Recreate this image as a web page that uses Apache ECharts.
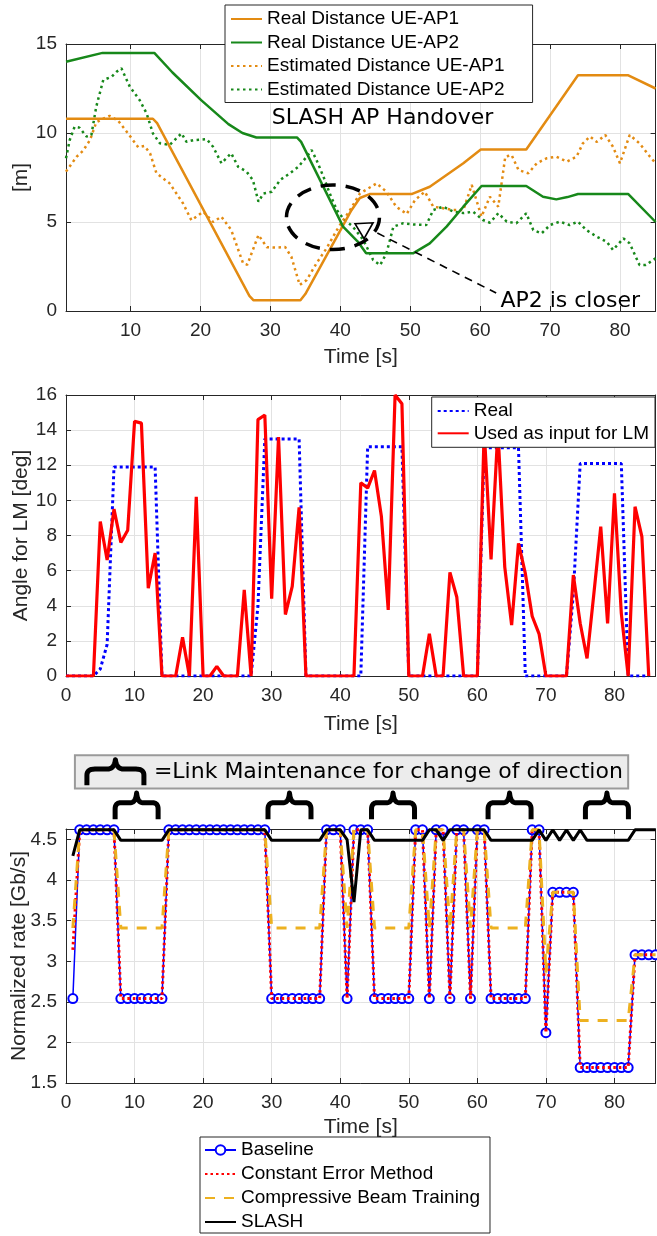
<!DOCTYPE html>
<html><head><meta charset="utf-8">
<script src="https://cdn.jsdelivr.net/npm/echarts@6/dist/echarts.min.js"></script>
<style>html,body{margin:0;padding:0;background:#fff}#c{width:657px;height:1236px}</style>
</head><body><div id="c"></div>
<script>
// ---------- Chart 1: distances [t (s), distance (m)] ----------
const realAP1 = [[0.77,10.8],[13.2,10.8],[13.8,10.55],[27.0,0.85],[27.6,0.6],[34.3,0.6],[35.0,0.95],[41.5,5.6],[42.8,6.35],[44.2,6.57],[50.2,6.57],[52.8,6.98],[55.2,7.64],[57.6,8.3],[60.1,9.07],[66.6,9.07],[74.0,13.24],[81.2,13.24],[85.1,12.5]];
const realAP2 = [[0.77,14.0],[6.0,14.5],[13.4,14.5],[16,13.4],[20.1,11.85],[24,10.5],[26,10.0],[28,9.75],[33.8,9.75],[34.4,9.5],[40.4,4.74],[42.5,3.9],[43.7,3.24],[50.4,3.24],[52.8,3.8],[55.2,4.74],[57.6,5.86],[60.2,7.02],[66.6,7.02],[69.0,6.42],[70.9,6.27],[72.5,6.4],[74.0,6.57],[81.2,6.57],[85.1,5.0]];
const estAP1 = [[0.77,7.83],[2.3,8.67],[3.2,9.0],[4.2,9.6],[5.1,10.6],[6.1,10.8],[7.0,10.96],[8.2,10.7],[9.4,10.1],[11.1,9.2],[12.0,9.27],[12.8,8.86],[13.7,7.74],[15.6,7.17],[17.5,6.05],[18.7,5.1],[20.4,5.58],[21.8,5.0],[23.0,5.3],[24.4,4.55],[26.1,2.68],[26.7,2.6],[28.3,4.27],[29.5,3.58],[30.9,3.56],[32.1,3.6],[33.0,3.05],[34.2,1.46],[35.2,1.74],[36.6,2.68],[38.0,3.5],[39.8,4.74],[41.4,5.67],[42.8,6.6],[45.2,7.17],[46.6,6.7],[48.0,5.86],[49.5,5.45],[50.7,6.24],[52.1,6.7],[53.3,5.86],[54.7,5.77],[56.2,5.67],[57.6,5.67],[58.8,7.08],[60.2,5.3],[61.4,6.42],[62.6,5.86],[63.6,8.67],[64.5,8.76],[65.5,7.92],[66.9,7.74],[68.1,8.3],[69.5,8.58],[70.9,8.67],[72.4,8.39],[73.8,8.67],[74.7,9.42],[75.7,9.8],[76.7,9.5],[77.9,9.89],[79.0,9.23],[80.0,8.3],[81.4,9.89],[82.8,9.42],[84.3,8.67],[85.1,8.3]];
const estAP2 = [[0.77,8.58],[1.3,9.6],[2.0,10.35],[2.7,10.3],[3.7,9.8],[4.4,9.89],[5.1,11.48],[6.1,12.98],[7.3,13.16],[8.0,13.44],[8.7,13.63],[9.9,12.6],[11.3,11.85],[12.3,11.1],[13.2,9.98],[14.2,9.42],[15.6,9.33],[16.3,9.6],[17.3,9.98],[18.0,9.5],[19.0,9.6],[20.9,9.65],[21.8,9.23],[23.0,8.3],[24.4,8.86],[25.4,8.1],[26.6,7.83],[27.5,7.36],[28.3,6.14],[29.0,6.6],[30.2,6.7],[31.4,7.36],[32.8,7.74],[34.0,8.1],[35.2,8.67],[35.9,9.04],[36.6,8.48],[37.6,7.54],[38.5,6.6],[39.5,5.67],[40.4,5.2],[41.8,4.74],[43.3,3.99],[44.7,2.87],[45.7,2.58],[46.6,3.24],[47.6,4.74],[49.0,4.93],[50.5,4.86],[52.3,4.83],[53.3,5.67],[54.7,5.86],[56.2,5.58],[57.6,5.5],[59.0,5.58],[60.4,5.11],[61.4,4.96],[62.6,5.49],[63.8,5.02],[65.2,4.93],[66.6,5.49],[67.6,4.55],[68.8,4.36],[70.0,4.83],[71.4,5.02],[72.8,4.83],[74.0,5.02],[75.2,4.55],[76.7,4.17],[78.1,3.89],[79.0,3.43],[80.5,4.08],[81.4,3.8],[82.8,2.58],[83.7,2.58],[85.1,2.96]];

// ---------- Chart 2: angle (deg), one value per second t = 0..85 ----------
const angleReal = [0,0,0,0,0,0.4,1.8,11.9,11.9,11.9,11.9,11.9,11.9,11.9,0,0,0,0,0,0,0,0,0,0,0,0,0,0,4.0,13.5,13.5,13.5,13.5,13.5,13.5,0,0,0,0,0,0,0,0,0,13.05,13.05,13.05,13.05,13.05,13.05,0,0,0,0,0,0,0,0,0,0,0,13.0,13.0,13.0,13.0,13.0,13.0,0,0,0,0,0,0,0,4.7,12.1,12.1,12.1,12.1,12.1,12.1,12.1,0,0,0,0];
const angleUsed = [0,0,0,0,0,8.8,6.6,9.5,7.6,8.3,14.5,14.4,5.0,7.0,0,0,0,2.2,0,10.2,0,0,0.55,0,0,0,4.9,0,14.6,14.86,4.4,13.6,3.5,5.1,9.6,0,0,0,0,0,0,0,0,11.0,10.7,11.7,9.1,3.76,16.0,15.5,0,0,0,2.4,0,0,5.9,4.5,0,0,0,14.0,6.64,14.0,6.2,2.9,7.55,5.84,3.4,2.4,0,0,0,0,5.75,3.0,1.0,4.7,8.5,3.0,10.4,3.57,0,9.64,7.93,0];

// ---------- Chart 3: normalized rate (Gb/s), one value per second t = 1..86 ----------
const rateBaseline = [2.54,4.62,4.62,4.62,4.62,4.62,4.62,2.54,2.54,2.54,2.54,2.54,2.54,2.54,4.62,4.62,4.62,4.62,4.62,4.62,4.62,4.62,4.62,4.62,4.62,4.62,4.62,4.62,4.62,2.54,2.54,2.54,2.54,2.54,2.54,2.54,2.54,4.62,4.62,4.62,2.54,4.62,4.62,4.62,2.54,2.54,2.54,2.54,2.54,2.54,4.62,4.62,2.54,4.62,4.62,2.54,4.62,4.62,2.54,4.62,4.62,2.54,2.54,2.54,2.54,2.54,2.54,4.62,4.62,2.12,3.85,3.85,3.85,3.85,1.69,1.69,1.69,1.69,1.69,1.69,1.69,1.69,3.08,3.08,3.08,3.08];
const rateConstErr = [3.14,4.62,4.62,4.62,4.62,4.62,4.62,2.54,2.54,2.54,2.54,2.54,2.54,2.54,4.62,4.62,4.62,4.62,4.62,4.62,4.62,4.62,4.62,4.62,4.62,4.62,4.62,4.62,4.62,2.54,2.54,2.54,2.54,2.54,2.54,2.54,2.54,4.62,4.62,4.62,2.54,4.62,4.62,4.62,2.54,2.54,2.54,2.54,2.54,2.54,4.62,4.62,2.54,4.62,4.62,2.54,4.62,4.62,2.54,4.62,4.62,2.54,2.54,2.54,2.54,2.54,2.54,4.62,4.62,2.12,3.85,3.85,3.85,3.85,1.69,1.69,1.69,1.69,1.69,1.69,1.69,1.69,3.08,3.08,3.08,3.08];
const rateCBT = [3.41,4.62,4.62,4.62,4.62,4.62,4.62,3.41,3.41,3.41,3.41,3.41,3.41,3.41,4.62,4.62,4.62,4.62,4.62,4.62,4.62,4.62,4.62,4.62,4.62,4.62,4.62,4.62,4.62,3.41,3.41,3.41,3.41,3.41,3.41,3.41,3.41,4.62,4.62,4.62,3.41,4.62,4.62,4.62,3.41,3.41,3.41,3.41,3.41,3.41,4.62,4.62,3.41,4.62,4.62,3.41,4.62,4.62,3.41,4.62,4.62,3.41,3.41,3.41,3.41,3.41,3.41,4.62,4.62,2.86,3.85,3.85,3.85,3.85,2.27,2.27,2.27,2.27,2.27,2.27,2.27,2.27,3.08,3.08,3.08,3.08];
const rateSLASH = [4.30,4.62,4.62,4.62,4.62,4.62,4.62,4.49,4.49,4.49,4.49,4.49,4.49,4.49,4.62,4.62,4.62,4.62,4.62,4.62,4.62,4.62,4.62,4.62,4.62,4.62,4.62,4.62,4.62,4.49,4.49,4.49,4.49,4.49,4.49,4.49,4.49,4.62,4.62,4.62,4.50,3.73,4.62,4.62,4.49,4.49,4.49,4.49,4.49,4.49,4.49,4.49,4.62,4.62,4.49,4.62,4.62,4.62,4.62,4.62,4.62,4.49,4.49,4.49,4.49,4.49,4.49,4.49,4.62,4.49,4.62,4.49,4.62,4.49,4.62,4.49,4.49,4.49,4.49,4.49,4.49,4.49,4.62,4.62,4.62,4.62];

// annotation anchors (data units)
const handoverEllipse = {t0:32.3, t1:45.6, v0:3.45, v1:7.08};
const closerTriangle = [43.4, 4.62];
const closerPointer = [[45.3, 4.38], [62.3, 1.01]];
const handoverLabelAt = [30.2, 10.84];
const closerLabelAt = [62.9, 0.52];
const braceCenters = [10.3, 32.6, 47.7, 64.7, 78.9];
const braceSpan = {v0:4.75, v1:5.08};
const noteBox = {t0:1.3, t1:82.0, v0:5.13, v1:5.54};

const AX = '#262626', GRIDC = '#e2e2e2';
const FONT = '"Liberation Sans", Arial, sans-serif';
const DJ = '"DejaVu Sans", sans-serif';

function withT(vals, t0) { return vals.map((v, i) => [t0 + i, v]); }

function xAxes(gi, base) {
  const common = {type:'value', gridIndex:gi, min:base.min, max:base.max};
  if (base.interval != null) common.interval = base.interval;
  if (base.splitNumber != null) common.splitNumber = base.splitNumber;
  return [
    Object.assign({}, common, {
      position:'bottom', name:'Time [s]', nameLocation:'middle', nameGap:base.nameGap,
      nameTextStyle:{fontFamily:FONT, fontSize:21, color:AX},
      axisLine:{show:true, onZero:false, lineStyle:{color:AX, width:1}},
      axisTick:{show:true, inside:true, length:5, lineStyle:{color:AX}},
      axisLabel:{show:true, color:AX, fontFamily:FONT, fontSize:19, margin:10,
        showMinLabel:base.showMin, showMaxLabel:false},
      splitLine:{show:true, lineStyle:{color:GRIDC, width:1}}
    }),
    Object.assign({}, common, {
      position:'top',
      axisLine:{show:true, onZero:false, lineStyle:{color:AX, width:1}},
      axisTick:{show:true, inside:true, length:5, lineStyle:{color:AX}},
      axisLabel:{show:false}, splitLine:{show:false}
    })
  ];
}
function yAxes(gi, base) {
  const common = {type:'value', gridIndex:gi, min:base.min, max:base.max, interval:base.interval};
  return [
    Object.assign({}, common, {
      position:'left', name:base.name, nameLocation:'middle', nameGap:base.nameGap, nameRotate:90,
      nameMoveOverlap:false,
      nameTextStyle:{fontFamily:FONT, fontSize:21, color:AX},
      axisLine:{show:true, onZero:false, lineStyle:{color:AX, width:1}},
      axisTick:{show:true, inside:true, length:5, lineStyle:{color:AX}},
      axisLabel:{show:true, color:AX, fontFamily:FONT, fontSize:19, margin:9, showMaxLabel:base.showMax},
      splitLine:{show:true, lineStyle:{color:GRIDC, width:1}}
    }),
    Object.assign({}, common, {
      position:'right',
      axisLine:{show:true, onZero:false, lineStyle:{color:AX, width:1}},
      axisTick:{show:true, inside:true, length:5, lineStyle:{color:AX}},
      axisLabel:{show:false}, splitLine:{show:false}
    })
  ];
}

const ORANGE = '#e38b12', GREEN = '#17881a';
const legendText = {fontFamily:FONT, fontSize:19, color:'#000', lineHeight:20};
const legendBase = {orient:'vertical', backgroundColor:'#fff', borderColor:AX, borderWidth:1,
  borderRadius:0, itemWidth:31, itemHeight:12, textStyle:legendText, selectedMode:false};
const noSym = {opacity:0};
function legendItems(names, keepSymbol) {
  return names.map(n => keepSymbol && keepSymbol.indexOf(n) >= 0 ? {name:n} : {name:n, itemStyle:noSym});
}

const chart = echarts.init(document.getElementById('c'), null, {renderer:'canvas'});

const option = {
  animation:false,
  backgroundColor:'#fff',
  grid:[
    {left:66, right:1.4, top:44, height:267, outerBoundsMode:'none', containLabel:false},
    {left:66, right:1.4, top:395, height:281, outerBoundsMode:'none', containLabel:false},
    {left:66, right:1.4, top:829, height:254, outerBoundsMode:'none', containLabel:false}
  ],
  xAxis:[].concat(
    xAxes(0, {min:0.77, max:85.1, splitNumber:8, nameGap:36, showMin:false}),
    xAxes(1, {min:0, max:86, interval:10, nameGap:38, showMin:true}),
    xAxes(2, {min:0, max:86, interval:10, nameGap:34, showMin:true})
  ),
  yAxis:[].concat(
    yAxes(0, {min:0, max:15, interval:5, name:'[m]', nameGap:34, showMax:true}),
    yAxes(1, {min:0, max:16, interval:2, name:'Angle for LM [deg]', nameGap:34, showMax:true}),
    yAxes(2, {min:1.5, max:4.63, interval:0.5, name:'Normalized rate [Gb/s]', nameGap:36, showMax:false})
  ),
  legend:[
    Object.assign({}, legendBase, {left:225, top:5, padding:[4,28,3,5], itemGap:3.5,
      data:legendItems(['Real Distance UE-AP1','Real Distance UE-AP2','Estimated Distance UE-AP1','Estimated Distance UE-AP2'])}),
    Object.assign({}, legendBase, {right:2, top:397, padding:[4,6,4,5], itemGap:2.3,
      data:legendItems(['Real','Used as input for LM'])}),
    Object.assign({}, legendBase, {left:200, top:1137, padding:[3,10,1,4], itemGap:4,
      data:legendItems(['Baseline','Constant Error Method','Compressive Beam Training','SLASH'], ['Baseline'])})
  ],
  series:[
    {name:'Real Distance UE-AP1', type:'line', xAxisIndex:0, yAxisIndex:0, data:realAP1, symbol:'none',
      lineStyle:{color:ORANGE, width:2.5}, itemStyle:{color:ORANGE}, z:3},
    {name:'Real Distance UE-AP2', type:'line', xAxisIndex:0, yAxisIndex:0, data:realAP2, symbol:'none',
      lineStyle:{color:GREEN, width:2.5}, itemStyle:{color:GREEN}, z:3},
    {name:'Estimated Distance UE-AP1', type:'line', xAxisIndex:0, yAxisIndex:0, data:estAP1, symbol:'none',
      lineStyle:{color:ORANGE, width:2.5, type:[2.5,3.5]}, itemStyle:{color:ORANGE}, z:2},
    {name:'Estimated Distance UE-AP2', type:'line', xAxisIndex:0, yAxisIndex:0, data:estAP2, symbol:'none',
      lineStyle:{color:GREEN, width:2.5, type:[2.5,3.5]}, itemStyle:{color:GREEN}, z:2},

    {name:'Real', type:'line', xAxisIndex:2, yAxisIndex:2, data:withT(angleReal, 0), symbol:'none',
      lineStyle:{color:'#0000ff', width:3, type:[3,3]}, itemStyle:{color:'#0000ff'}, z:2},
    {name:'Used as input for LM', type:'line', xAxisIndex:2, yAxisIndex:2, data:withT(angleUsed, 0), symbol:'none',
      lineStyle:{color:'#ff0000', width:3.2}, itemStyle:{color:'#ff0000'}, z:3},

    {name:'Baseline', type:'line', xAxisIndex:4, yAxisIndex:4, data:withT(rateBaseline, 1),
      symbol:'emptyCircle', symbolSize:9, showAllSymbol:true,
      lineStyle:{color:'#0000ff', width:1.5}, itemStyle:{color:'#0000ff', borderWidth:1.6}, z:2},
    {name:'Constant Error Method', type:'line', xAxisIndex:4, yAxisIndex:4, data:withT(rateConstErr, 1), symbol:'none',
      lineStyle:{color:'#ff0000', width:3, type:[2.5,3]}, itemStyle:{color:'#ff0000'}, z:3},
    {name:'Compressive Beam Training', type:'line', xAxisIndex:4, yAxisIndex:4, data:withT(rateCBT, 1), symbol:'none',
      lineStyle:{color:'#edb120', width:3, type:[10,9]}, itemStyle:{color:'#edb120'}, z:3},
    {name:'SLASH', type:'line', xAxisIndex:4, yAxisIndex:4, data:withT(rateSLASH, 1), symbol:'none',
      lineStyle:{color:'#000', width:3}, itemStyle:{color:'#000'}, z:4}
  ]
};
chart.setOption(option);

function P(xa, ya, t, v) { return chart.convertToPixel({xAxisIndex:xa, yAxisIndex:ya}, [t, v]); }
function quad(p0, c, p1, n, out) {
  for (let i = 1; i <= n; i++) {
    const s = i / n, a = (1 - s) * (1 - s), b = 2 * (1 - s) * s, d = s * s;
    out.push([a * p0[0] + b * c[0] + d * p1[0], a * p0[1] + b * c[1] + d * p1[1]]);
  }
}
function bracePoints(x0, y0, w, h) {
  const X = f => x0 + f * w, Y = f => y0 + f * h;
  const pts = [[X(0), Y(1)], [X(0), Y(0.62)]];
  quad([X(0), Y(0.62)], [X(0), Y(0.38)], [X(0.14), Y(0.38)], 8, pts);
  pts.push([X(0.36), Y(0.38)]);
  quad([X(0.36), Y(0.38)], [X(0.48), Y(0.38)], [X(0.5), Y(0.02)], 8, pts);
  quad([X(0.5), Y(0.02)], [X(0.52), Y(0.38)], [X(0.64), Y(0.38)], 8, pts);
  pts.push([X(0.86), Y(0.38)]);
  quad([X(0.86), Y(0.38)], [X(1), Y(0.38)], [X(1), Y(0.62)], 8, pts);
  pts.push([X(1), Y(1)]);
  return pts;
}

const g = [];
// Chart 1 annotations
const eA = P(0,0,handoverEllipse.t0, handoverEllipse.v1), eB = P(0,0,handoverEllipse.t1, handoverEllipse.v0);
g.push({type:'ellipse', z:20, shape:{cx:(eA[0]+eB[0])/2, cy:(eA[1]+eB[1])/2, rx:(eB[0]-eA[0])/2, ry:(eB[1]-eA[1])/2},
  style:{fill:null, stroke:'#000', lineWidth:3.5, lineDash:[15,10]}});
const tc = P(0,0,closerTriangle[0], closerTriangle[1]);
g.push({type:'polygon', z:20, shape:{points:[[tc[0]-9,tc[1]-5],[tc[0]+9,tc[1]-6],[tc[0],tc[1]+10]]},
  style:{fill:null, stroke:'#000', lineWidth:1.6}});
const l1 = P(0,0,closerPointer[0][0], closerPointer[0][1]), l2 = P(0,0,closerPointer[1][0], closerPointer[1][1]);
g.push({type:'line', z:20, shape:{x1:l1[0], y1:l1[1], x2:l2[0], y2:l2[1]},
  style:{stroke:'#000', lineWidth:1.6, lineDash:[8,6]}});
const hl = P(0,0,handoverLabelAt[0], handoverLabelAt[1]);
g.push({type:'text', z:20, x:hl[0], y:hl[1], style:{text:'SLASH AP Handover', font:'22px ' + DJ, fill:'#000', align:'left', verticalAlign:'middle'}});
const cl = P(0,0,closerLabelAt[0], closerLabelAt[1]);
g.push({type:'text', z:20, x:cl[0], y:cl[1], style:{text:'AP2 is closer', font:'22px ' + DJ, fill:'#000', align:'left', verticalAlign:'middle'}});

// Chart 3 annotations
const nb0 = P(4,4,noteBox.t0, noteBox.v1), nb1 = P(4,4,noteBox.t1, noteBox.v0);
g.push({type:'rect', z:20, shape:{x:nb0[0], y:nb0[1], width:nb1[0]-nb0[0], height:nb1[1]-nb0[1]},
  style:{fill:'#ececec', stroke:'#9a9a9a', lineWidth:2}});
g.push({type:'polyline', z:21, shape:{points:bracePoints(nb0[0]+12, nb0[1]+4, 57, 26)},
  style:{fill:null, stroke:'#000', lineWidth:5, lineJoin:'round'}});
g.push({type:'text', z:21, x:nb0[0]+79, y:(nb0[1]+nb1[1])/2, style:{text:'=Link Maintenance for change of direction', font:'22px ' + DJ, fill:'#000', align:'left', verticalAlign:'middle'}});
braceCenters.forEach(t => {
  const top = P(4,4,t, braceSpan.v1), bot = P(4,4,t, braceSpan.v0);
  g.push({type:'polyline', z:21, shape:{points:bracePoints(top[0]-21.5, top[1], 43, bot[1]-top[1])},
    style:{fill:null, stroke:'#000', lineWidth:5, lineJoin:'round'}});
});
chart.setOption({graphic:g});
</script>
</body></html>
